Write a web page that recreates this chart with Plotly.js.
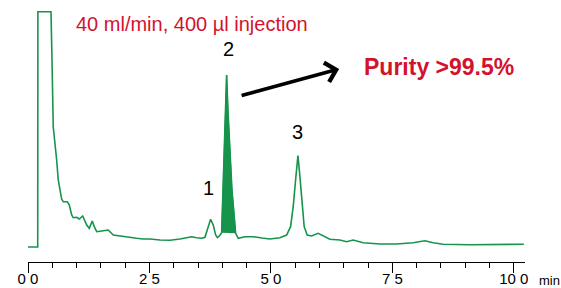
<!DOCTYPE html>
<html>
<head>
<meta charset="utf-8">
<script src="https://cdn.plot.ly/plotly-3.0.1.min.js"></script>
<style>html,body{margin:0;padding:0;background:#fff;}#chart{width:561px;height:288px;}</style>
</head>
<body>
<div id="chart"></div>
<script>
// Retention time (min)
const timeMin = [0, 0.2, 0.204, 0.473, 0.494, 0.52, 0.59, 0.623, 0.693, 0.726, 0.809, 0.85, 0.899, 0.932, 1.002, 1.056, 1.126, 1.158, 1.208, 1.261, 1.323, 1.364, 1.414, 1.516, 1.652, 1.755, 1.893, 2.031, 2.237, 2.372, 2.51, 2.716, 2.922, 3.128, 3.265, 3.368, 3.471, 3.574, 3.642, 3.689, 3.759, 3.813, 3.862, 3.9, 3.936, 3.986, 4.012, 4.043, 4.068, 4.088, 4.115, 4.152, 4.198, 4.274, 4.327, 4.465, 4.636, 4.815, 4.979, 5.185, 5.323, 5.405, 5.459, 5.508, 5.556, 5.597, 5.644, 5.685, 5.747, 5.837, 5.973, 6.076, 6.214, 6.42, 6.558, 6.693, 6.899, 7.243, 7.586, 7.928, 8.066, 8.169, 8.34, 8.545, 9.095, 9.78, 10.206];
// Detector signal (arbitrary units)
const signal = [15, 15, 250.3, 250.3, 202, 135, 102, 82, 62.7, 60.3, 60.3, 57, 47, 44.3, 44.7, 43, 46, 42.7, 37, 33.7, 41, 35.3, 30.3, 31, 32, 27, 26, 24.7, 23.7, 23, 23, 22, 21.7, 23, 24.3, 25.3, 24.3, 23.7, 24.7, 32, 42.7, 37, 27, 24.5, 26, 29.3, 72, 112, 152, 187, 152, 112, 72, 28.7, 23.7, 25.3, 25.3, 24, 23, 24.3, 27, 35.3, 55.3, 82, 106.3, 85.3, 55.3, 35.3, 27, 26, 28.7, 26.3, 22.7, 22, 20.3, 22, 19.3, 18, 18, 19.3, 20.3, 21.3, 19.3, 17.7, 17.3, 17.3, 17.7];
// Collected fraction (peak 2) window
const fractionStart = 3.986;
const fractionEnd = 4.274;
// Peak labels and approximate apex times
const peakLabels = ['1', '2', '3'];
const peakTimes = [3.759, 4.088, 5.556];
// Axis ticks
const tickValues = [0, 2.5, 5, 7.5, 10];
const tickLabels = ['0 0', '2 5', '5 0', '7 5', '10 0'];
const titleText = '40 ml/min, 400 µl injection';
const purityText = 'Purity >99.5%';
const unitText = 'min';

const green = '#16944c';
const red = '#d3122e';
const fontFam = '"Liberation Sans", Arial, sans-serif';

const fracX = [], fracY = [];
timeMin.forEach((t, i) => { if (t >= fractionStart && t <= fractionEnd) { fracX.push(t); fracY.push(signal[i]); } });

const traces = [
  {x: fracX, y: fracY, mode: 'lines', fill: 'toself', fillcolor: green, line: {color: green, width: 1}, hoverinfo: 'skip'},
  {x: timeMin, y: signal, mode: 'lines', line: {color: green, width: 1.6}}
];

const labelShift = [{dx: -2, dy: 18}, {dx: 2, dy: 13}, {dx: 0, dy: 11}];
const annotations = peakLabels.map((lab, k) => {
  let best = 0, bi = 0;
  timeMin.forEach((t, i) => { if (Math.abs(t - peakTimes[k]) < 0.06 && signal[i] > best) { best = signal[i]; bi = i; } });
  return {x: timeMin[bi], y: signal[bi], xref: 'x', yref: 'y', text: lab, showarrow: false,
    yanchor: 'bottom', xanchor: 'center', xshift: labelShift[k].dx, yshift: labelShift[k].dy,
    font: {family: fontFam, size: 20, color: '#000'}};
});
annotations.push(
  {xref: 'paper', yref: 'paper', x: 0.098, y: 0.908, xanchor: 'left', yanchor: 'middle', xshift: -3, text: titleText, showarrow: false,
   font: {family: fontFam, size: 20, color: red}},
  {xref: 'paper', yref: 'paper', x: 0.676, y: 0.745, xanchor: 'left', yanchor: 'middle', xshift: -2, text: '<b>' + purityText + '</b>', showarrow: false,
   font: {family: fontFam, size: 23, color: red}},
  {xref: 'paper', yref: 'paper', x: 0.626, y: 0.737, text: '', showarrow: true, ax: -99, ay: 27,
   arrowhead: 4, arrowsize: 1.1, arrowwidth: 3.5, arrowcolor: '#000'},
  {xref: 'paper', yref: 'paper', x: 1, y: -0.072, xanchor: 'left', yanchor: 'middle', xshift: 12, text: unitText, showarrow: false,
   font: {family: fontFam, size: 13, color: '#000'}}
);

const layout = {
  width: 561, height: 288,
  margin: {l: 28, r: 36, t: 0, b: 26},
  paper_bgcolor: '#fff', plot_bgcolor: '#fff',
  showlegend: false,
  xaxis: {range: [0, 10.23], showgrid: false, zeroline: false, showline: true, linecolor: '#000', linewidth: 1,
    ticks: 'outside', ticklen: 10, tickwidth: 1, tickcolor: '#000', ticklabelstandoff: -7,
    tickvals: tickValues, ticktext: tickLabels, tickfont: {family: fontFam, size: 15, color: '#000'},
    minor: {dtick: 0.5, tick0: 0, ticks: 'outside', ticklen: 5, tickwidth: 1, tickcolor: '#000', showgrid: false}},
  yaxis: {range: [0, 262], visible: false, fixedrange: true},
  annotations: annotations
};

Plotly.newPlot('chart', traces, layout, {displayModeBar: false, staticPlot: true});
</script>
</body>
</html>
